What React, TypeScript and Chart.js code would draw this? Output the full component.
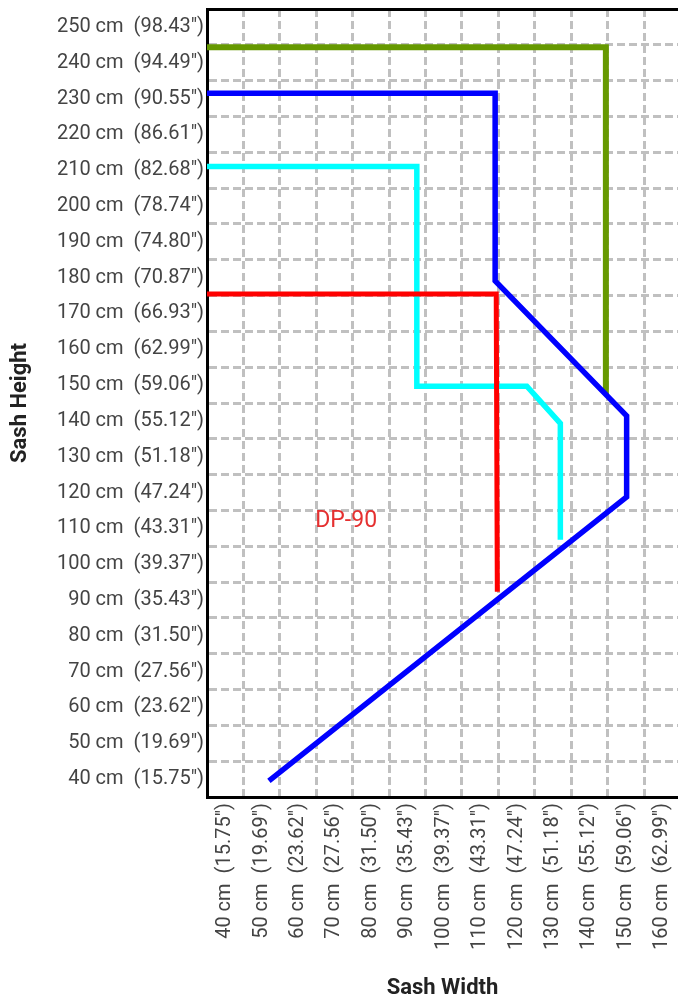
import React, { useEffect, useRef } from 'react';
import { Chart, registerables } from 'chart.js';

Chart.register(...registerables);

// ---- Tick labels ----
const xTickCm = [40, 50, 60, 70, 80, 90, 100, 110, 120, 130, 140, 150, 160];
const xTickInches = ['15.75', '19.69', '23.62', '27.56', '31.50', '35.43', '39.37', '43.31', '47.24', '51.18', '55.12', '59.06', '62.99'];
const yTickCm = [40, 50, 60, 70, 80, 90, 100, 110, 120, 130, 140, 150, 160, 170, 180, 190, 200, 210, 220, 230, 240, 250];
const yTickInches = ['15.75', '19.69', '23.62', '27.56', '31.50', '35.43', '39.37', '43.31', '47.24', '51.18', '55.12', '59.06', '62.99', '66.93', '70.87', '74.80', '78.74', '82.68', '86.61', '90.55', '94.49', '98.43'];

// ---- Series (width cm, height cm) ----
const greenX = [35, 144.5, 144.5];
const greenY = [244.3, 244.3, 147.5];
const blueX = [35, 114.1, 114.1, 150.2, 150.2, 52.0];
const blueY = [231.5, 231.5, 179.1, 141.4, 118.8, 39.5];
const cyanX = [35, 92.6, 92.6, 122.8, 132.0, 132.0];
const cyanY = [211.0, 211.0, 149.7, 149.7, 139.3, 106.8];
const redX = [35, 114.4, 114.7];
const redY = [175.4, 175.4, 92.3];

const annotationText = 'DP-90';
const annotationX = 73.2;
const annotationY = 111.9;

const xTitle = 'Sash Width';
const yTitle = 'Sash Height';

const FONT = "Roboto, 'Liberation Sans', sans-serif";

const pts = (xs: number[], ys: number[]) => xs.map((x, i) => ({ x, y: ys[i] }));

const gridColor = (ctx: any) => {
  const v = ctx.tick ? ctx.tick.value : NaN;
  return Math.abs(v % 10 - 5) < 1e-6 && v > 36 && v < 254 ? '#c0c0c0' : 'rgba(0,0,0,0)';
};

const labelPlugin = {
  id: 'dpLabel',
  afterDatasetsDraw(chart: any) {
    const { ctx, scales } = chart;
    ctx.save();
    ctx.font = `23px ${FONT}`;
    ctx.fillStyle = '#e53030';
    ctx.textAlign = 'center';
    ctx.textBaseline = 'middle';
    ctx.fillText(annotationText, scales.x.getPixelForValue(annotationX), scales.y.getPixelForValue(annotationY));
    ctx.restore();
  },
};

export default function App() {
  const ref = useRef<HTMLCanvasElement | null>(null);
  useEffect(() => {
    if (!ref.current) return;
    const mk = (label: string, data: any[], color: string, w: number) => ({
      label,
      data,
      borderColor: color,
      backgroundColor: color,
      borderWidth: w,
      pointRadius: 0,
      tension: 0,
      fill: false,
      borderCapStyle: 'butt',
      borderJoinStyle: 'miter',
    });
    const chart = new Chart(ref.current, {
      type: 'line',
      data: {
        datasets: [
          mk('Blue', pts(blueX, blueY), '#0000ff', 5.5),
          mk('DP-90', pts(redX, redY), '#ff0000', 5),
          mk('Cyan', pts(cyanX, cyanY), '#00ffff', 5.5),
          mk('Green', pts(greenX, greenY), '#669900', 6),
        ] as any,
      },
      options: {
        animation: false,
        responsive: true,
        maintainAspectRatio: false,
        layout: { padding: { left: 0, right: 0, top: 0, bottom: 0 } },
        plugins: { legend: { display: false }, tooltip: { enabled: false } },
        scales: {
          x: {
            type: 'linear',
            position: 'bottom',
            min: 35,
            max: 164.3,
            grid: { color: gridColor, lineWidth: 3, drawTicks: false },
            border: { display: true, color: '#000', width: 3, dash: [8, 4] },
            ticks: {
              stepSize: 5,
              autoSkip: false,
              includeBounds: false,
              minRotation: 90,
              maxRotation: 90,
              padding: 6,
              color: '#444',
              font: { family: FONT, size: 20 },
              callback: (v: any) => {
                const i = xTickCm.indexOf(Number(v));
                return i >= 0 ? `${xTickCm[i]} cm  (${xTickInches[i]}")` : '';
              },
            },
            title: {
              display: true,
              text: xTitle,
              color: '#222',
              font: { family: FONT, size: 22, weight: 'bold', lineHeight: 1 },
              padding: { top: 0, bottom: 3 },
            },
            afterFit: (s: any) => {
              s.height = 205;
              s.paddingLeft = 0;
              s.paddingRight = 0;
            },
          },
          x2: {
            type: 'linear',
            position: 'top',
            min: 0,
            max: 1,
            grid: { display: false, drawTicks: false },
            border: { display: true, color: '#000', width: 3 },
            ticks: { display: false },
            afterFit: (s: any) => {
              s.height = 9;
              s.paddingLeft = 0;
              s.paddingRight = 0;
            },
          },
          y: {
            type: 'linear',
            position: 'left',
            min: 35,
            max: 255,
            grid: { color: gridColor, lineWidth: 3, drawTicks: false },
            border: { display: true, color: '#000', width: 3, dash: [8, 4] },
            ticks: {
              stepSize: 5,
              autoSkip: false,
              includeBounds: false,
              padding: 3,
              color: '#444',
              font: { family: FONT, size: 20 },
              callback: (v: any) => {
                const i = yTickCm.indexOf(Number(v));
                return i >= 0 ? `${yTickCm[i]} cm  (${yTickInches[i]}")` : '';
              },
            },
            title: {
              display: true,
              text: yTitle,
              color: '#222',
              font: { family: FONT, size: 22, weight: 'bold', lineHeight: 1 },
              padding: { top: 9, bottom: 0 },
            },
            afterFit: (s: any) => {
              s.width = 207;
              s.paddingTop = 0;
              s.paddingBottom = 0;
            },
          },
        },
      } as any,
      plugins: [labelPlugin],
    });
    return () => chart.destroy();
  }, []);

  return (
    <div style={{ position: 'absolute', left: 0, top: 0, width: 678, height: 1002, background: '#fff' }}>
      <canvas ref={ref} />
    </div>
  );
}
